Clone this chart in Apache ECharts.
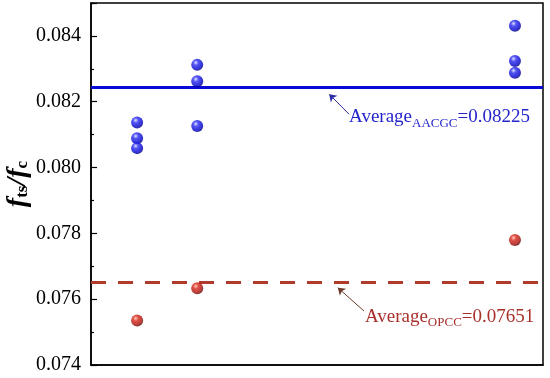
<!DOCTYPE html>
<html><head><meta charset="utf-8">
<script src="https://cdn.jsdelivr.net/npm/echarts@6/dist/echarts.min.js"></script>
<style>html,body{margin:0;padding:0;background:#fff}#c{width:550px;height:378px}</style>
</head><body><div id="c"></div>
<script>
// ---- data ----
const aacgcX = [1.02, 1.02, 1.02, 2.35, 2.35, 2.35, 9.38, 9.38, 9.38];
const aacgcY = [0.08137, 0.08089, 0.08059, 0.08312, 0.08262, 0.08126, 0.08431, 0.08324, 0.08288];
const opccX = [1.02, 2.35, 9.38];
const opccY = [0.07535, 0.07633, 0.07780];
const aacgcAvgLine = 0.08245;
const opccAvgLine = 0.07650;
const aacgcText = ['Average', 'AACGC', '=0.08225'];
const opccText = ['Average', 'OPCC', '=0.07651'];
const aacgcArrow = [[5.71, 0.08162], [5.27, 0.08223]];
const opccArrow = [[6.04, 0.07564], [5.46, 0.07635]];
const aacgcLabelAt = [5.71, 0.08153];
const opccLabelAt = [6.06, 0.07546];
const yMin = 0.074, yMax = 0.085, yStep = 0.002;
const xMin = 0, xMax = 10;

const serif = 'Liberation Serif';
const blue = '#0a0ad8', red = '#b03a2c';

function ball(c0, c1, c2, c3) {
  return new echarts.graphic.RadialGradient(0.38, 0.32, 0.72, [
    {offset: 0, color: c0}, {offset: 0.3, color: c1}, {offset: 0.75, color: c2}, {offset: 1, color: c3}
  ]);
}
function pairs(xs, ys) { return xs.map((x, i) => [x, ys[i]]); }
function richLabel(parts, color) {
  return {
    show: true, position: 'right', distance: 0,
    formatter: '{a|' + parts[0] + '}{s|' + parts[1] + '}{a|' + parts[2] + '}',
    rich: {
      a: {fontFamily: serif, fontSize: 19, color: color, lineHeight: 24},
      s: {fontFamily: serif, fontSize: 13, color: color, padding: [12, 0, 0, 0]}
    }
  };
}

const chart = echarts.init(document.getElementById('c'), null, {renderer: 'canvas'});
chart.setOption({
  animation: false,
  backgroundColor: '#fff',
  grid: {left: 91, right: 7, top: 3, bottom: 13, outerBoundsMode: 'none', containLabel: false,
         show: true, borderColor: '#000', borderWidth: 1.5, backgroundColor: 'transparent'},
  xAxis: {
    type: 'value', min: xMin, max: xMax,
    axisLine: {show: true, onZero: false, lineStyle: {color: '#000', width: 1.5}},
    axisTick: {show: false}, axisLabel: {show: false}, splitLine: {show: false}
  },
  yAxis: {
    type: 'value', min: yMin, max: yMax, interval: yStep,
    name: '{f|f}{s|ts}{f|/f}{s|c}', nameLocation: 'middle', nameGap: 59, nameMoveOverlap: false,
    nameTextStyle: {
      rich: {
        f: {fontFamily: serif, fontStyle: 'italic', fontWeight: 'bold', fontSize: 28, color: '#000'},
        s: {fontFamily: serif, fontWeight: 'bold', fontSize: 17, color: '#000', padding: [10, 0, 0, 0]}
      }
    },
    axisLine: {show: true, lineStyle: {color: '#000', width: 1.5}},
    axisTick: {show: true, inside: true, length: 6, lineStyle: {color: '#000', width: 1.2}},
    minorTick: {show: true, splitNumber: 2, length: 3, lineStyle: {color: '#000', width: 1.2}},
    axisLabel: {
      fontFamily: serif, fontSize: 20, color: '#000', margin: 10, showMaxLabel: false,
      formatter: v => v.toFixed(3)
    },
    splitLine: {show: false}
  },
  series: [
    {
      type: 'scatter', name: 'AACGC', data: pairs(aacgcX, aacgcY), symbolSize: 12, z: 5,
      itemStyle: {color: ball('#d8dcff', '#2a2af2', '#0000cc', '#000070')},
      markLine: {
        silent: true, animation: false, symbol: ['none', 'none'], precision: 6,
        label: {show: false},
        data: [
          {yAxis: aacgcAvgLine, lineStyle: {color: blue, width: 3, type: 'solid'}},
          [{coord: aacgcArrow[0], symbol: 'none', lineStyle: {color: '#2b2ba8', width: 1, type: 'solid'}},
           {coord: aacgcArrow[1], symbol: 'arrow', symbolSize: 7}]
        ]
      },
      markPoint: {
        silent: true, animation: false, symbol: 'circle', symbolSize: 0,
        data: [{coord: aacgcLabelAt, label: richLabel(aacgcText, '#2525cc')}]
      }
    },
    {
      type: 'scatter', name: 'OPCC', data: pairs(opccX, opccY), symbolSize: 12, z: 5,
      itemStyle: {color: ball('#ffc0b0', '#d82818', '#a80e0a', '#500000')},
      markLine: {
        silent: true, animation: false, symbol: ['none', 'none'], precision: 6,
        label: {show: false},
        data: [
          {yAxis: opccAvgLine, lineStyle: {color: red, width: 3, type: [15, 12]}},
          [{coord: opccArrow[0], symbol: 'none', lineStyle: {color: '#6e3a2a', width: 1, type: 'solid'}},
           {coord: opccArrow[1], symbol: 'arrow', symbolSize: 7}]
        ]
      },
      markPoint: {
        silent: true, animation: false, symbol: 'circle', symbolSize: 0,
        data: [{coord: opccLabelAt, label: richLabel(opccText, '#a8302a')}]
      }
    }
  ]
});
</script></body></html>
